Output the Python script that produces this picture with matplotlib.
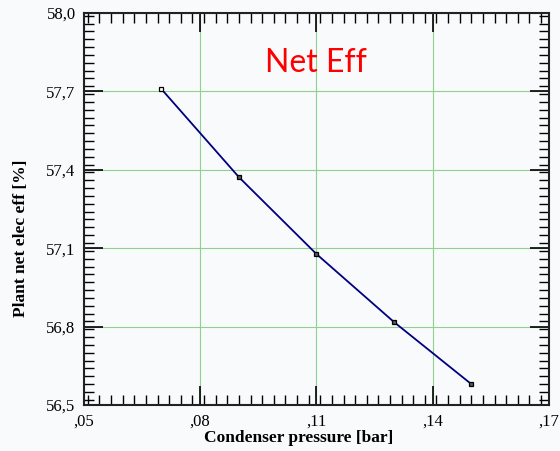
import numpy as np
import matplotlib
matplotlib.use("Agg")
import matplotlib.pyplot as plt
from matplotlib.ticker import MultipleLocator, FuncFormatter

# Datos
presion = [0.07, 0.09, 0.11, 0.13, 0.15]
eficiencia = [57.709, 57.372, 57.078, 56.818, 56.580]

x_ticks = [0.05, 0.08, 0.11, 0.14, 0.17]
y_ticks = [56.5, 56.8, 57.1, 57.4, 57.7, 58.0]

fondo = '#f8fafc'
fig = plt.figure(figsize=(5.6, 4.51), dpi=100, facecolor=fondo)
ax = fig.add_axes([0.15, 0.102, 0.830, 0.869], facecolor=fondo)

ax.plot(presion, eficiencia, color='#00007f', lw=1.3, zorder=3)
ax.plot(presion[:1], eficiencia[:1], ls='none', marker='s', ms=3.5,
        mfc='white', mec='black', mew=0.9, zorder=4)
ax.plot(presion[1:], eficiencia[1:], ls='none', marker='s', ms=3.5,
        mfc='#555566', mec='black', mew=0.9, zorder=4)

ax.set_xlim(0.05, 0.17)
ax.set_ylim(56.5, 58.0)
ax.set_xticks(x_ticks)
ax.set_yticks(y_ticks)
ax.xaxis.set_minor_locator(MultipleLocator(0.003))
ax.yaxis.set_minor_locator(MultipleLocator(0.03))

ax.xaxis.set_major_formatter(FuncFormatter(lambda v, p: ('%.2f' % v).replace('0.', ',', 1)))
ax.yaxis.set_major_formatter(FuncFormatter(lambda v, p: ('%.1f' % v).replace('.', ',')))

ax.grid(True, which='major', color='#90d090', lw=0.8)
ax.tick_params(which='both', direction='in', top=True, right=True, color='black')
ax.tick_params(which='major', length=14, width=1.2, labelsize=12, pad=6)
ax.tick_params(which='minor', length=7, width=1.0)
for lab in ax.get_xticklabels() + ax.get_yticklabels():
    lab.set_family('Liberation Serif')
for s in ax.spines.values():
    s.set_linewidth(1.5)
    s.set_color('#222222')

ax.set_xlabel('Condenser pressure [bar]', family='Liberation Serif', fontweight='bold', fontsize=12.5)
ax.set_ylabel('Plant net elec eff [%]', family='Liberation Serif', fontweight='bold', fontsize=12.5)
ax.xaxis.set_label_coords(0.461, -0.064)
ax.yaxis.set_label_coords(-0.118, 0.426)

ax.text(0.11, 57.81, 'Net Eff', color='red', family='Lato', fontsize=23, ha='center', va='center')

fig.savefig('out.png', dpi=100, facecolor=fondo)
